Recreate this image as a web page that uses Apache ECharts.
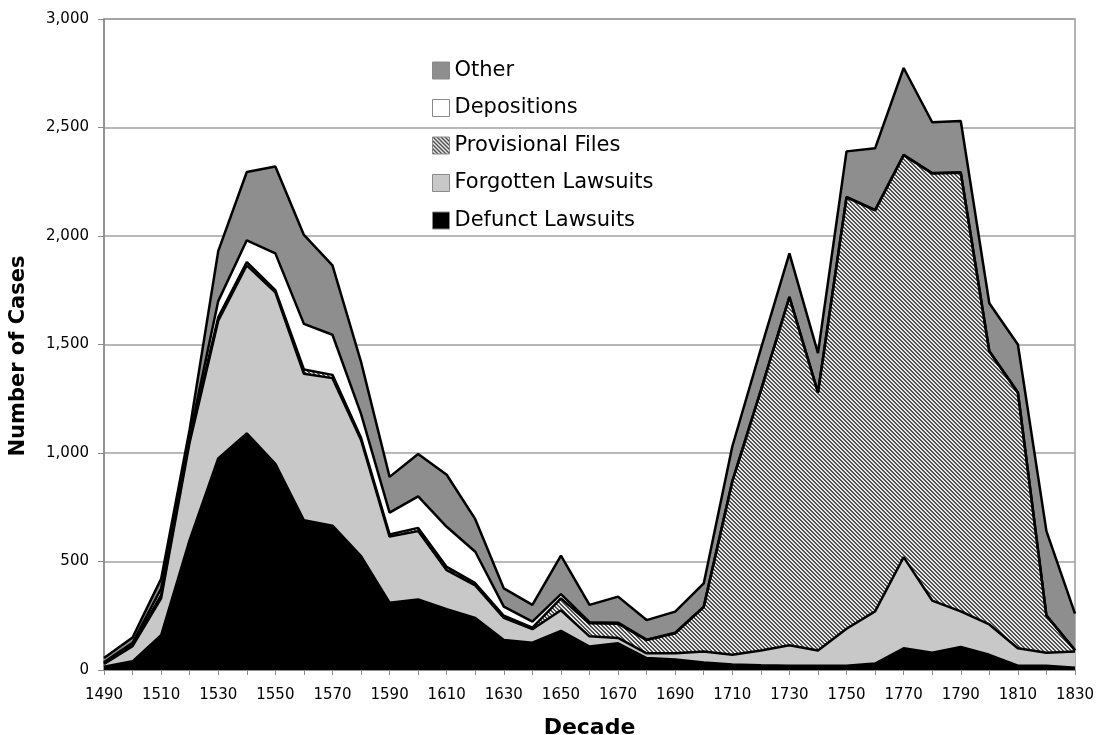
<!DOCTYPE html>
<html>
<head>
<meta charset="utf-8">
<script src="https://cdn.jsdelivr.net/npm/echarts@6/dist/echarts.min.js"></script>
<style>
html,body{margin:0;padding:0;background:#fff;}
#c{width:1098px;height:735px;}
</style>
</head>
<body>
<div id="c"></div>
<script>
const decades = ['1490','1500','1510','1520','1530','1540','1550','1560','1570','1580','1590','1600','1610','1620','1630','1640','1650','1660','1670','1680','1690','1700','1710','1720','1730','1740','1750','1760','1770','1780','1790','1800','1810','1820','1830'];
const defunct = [15,40,160,600,975,1090,950,690,665,525,310,325,280,240,138,126,180,108,123,55,48,35,25,22,20,20,20,30,100,80,106,70,20,20,10];
const forgotten = [13,70,170,450,635,775,790,675,680,535,305,315,180,150,102,62,95,47,25,22,29,50,45,68,94,70,170,240,420,240,164,140,80,60,75];
const provisional = [2,5,15,15,15,15,10,20,15,10,10,15,15,10,10,7,55,60,65,61,92,205,798,1198,1604,1188,1988,1848,1852,1968,2022,1258,1178,170,5];
const depositions = [5,10,30,15,75,100,170,210,185,110,100,145,185,145,42,28,20,5,5,2,3,2,2,2,2,2,2,2,2,2,2,2,2,2,2];
const other = [20,25,45,30,230,315,400,410,320,240,165,195,240,150,84,77,177,80,120,90,97,107,160,190,200,180,210,284,400,234,236,220,220,388,168];
const seriesNames = ['Defunct Lawsuits','Forgotten Lawsuits','Provisional Files','Depositions','Other'];
const legendOrder = ['Other','Depositions','Provisional Files','Forgotten Lawsuits','Defunct Lawsuits'];

// hatch pattern
const pc = document.createElement('canvas');
pc.width = 4; pc.height = 4;
const pctx = pc.getContext('2d');
const img = pctx.createImageData(4,4);
for (let y=0;y<4;y++) for (let x=0;x<4;x++){
  const d = ((x - y) % 4 + 4) % 4;
  const v = (d===0 || d===1) ? 80 : 232;
  const i = (y*4+x)*4;
  img.data[i]=v; img.data[i+1]=v; img.data[i+2]=v; img.data[i+3]=255;
}
pctx.putImageData(img,0,0);
const hatch = {image: pc, repeat: 'repeat'};

const fills = ['#000000','#c8c8c8',hatch,'#ffffff','#8e8e8e'];
const dataSets = [defunct,forgotten,provisional,depositions,other];

const chart = echarts.init(document.getElementById('c'), null, {renderer:'canvas'});
const series = seriesNames.map((n,i)=>({
  name: n,
  type: 'line',
  stack: 'total',
  data: dataSets[i],
  symbol: 'none',
  showSymbol: false,
  smooth: false,
  lineStyle: {color:'#000', width:2.5},
  itemStyle: {color: fills[i]},
  areaStyle: {color: fills[i], opacity: 1},
  z: 2
}));

chart.setOption({
  animation: false,
  backgroundColor: '#fff',
  grid: {left:104, right:23, top:19, bottom:65, outerBoundsMode:'none', containLabel:false,
         show:true, borderColor:'#9a9a9a', borderWidth:1.5, backgroundColor:'transparent'},
  legend: {
    orient: 'vertical',
    left: 427, top: 55,
    itemWidth: 17, itemHeight: 17,
    itemGap: 16.5,
    icon: 'rect',
    textStyle: {fontFamily:'DejaVu Sans', fontSize:21, color:'#000'},
    data: legendOrder.map(n=>{
      const i = seriesNames.indexOf(n);
      return {name:n, itemStyle:{color: fills[i], borderColor:'#8a8a8a', borderWidth:1}};
    })
  },
  graphic: [{
    type: 'text',
    x: 19, y: 356,
    rotation: Math.PI/2,
    style: {text:'Number of Cases', fontFamily:'DejaVu Sans', fontWeight:'bold', fontSize:21,
            fill:'#000', align:'center', verticalAlign:'middle'}
  }],
  xAxis: {
    type: 'category',
    data: decades,
    boundaryGap: false,
    name: 'Decade',
    nameLocation: 'middle',
    nameGap: 47,
    nameTextStyle: {fontFamily:'DejaVu Sans', fontWeight:'bold', fontSize:22, color:'#000'},
    axisLine: {lineStyle:{color:'#8a8a8a', width:1.5}},
    axisTick: {show:true, interval:0, length:5, lineStyle:{color:'#8a8a8a'}},
    axisLabel: {interval:1, fontFamily:'DejaVu Sans', fontSize:15, color:'#000', margin:18},
    splitLine: {show:false}
  },
  yAxis: {
    type: 'value',
    min: 0, max: 3000, interval: 500,
    axisLine: {show:true, lineStyle:{color:'#8a8a8a', width:1.5}},
    axisTick: {show:true, length:6, lineStyle:{color:'#8a8a8a'}},
    axisLabel: {fontFamily:'DejaVu Sans', fontSize:15, color:'#000', margin:15,
      formatter: v => v.toLocaleString('en-US')},
    splitLine: {show:true, lineStyle:{color:'#a0a0a0', width:1.5}}
  },
  series: series
});
</script>
</body>
</html>
